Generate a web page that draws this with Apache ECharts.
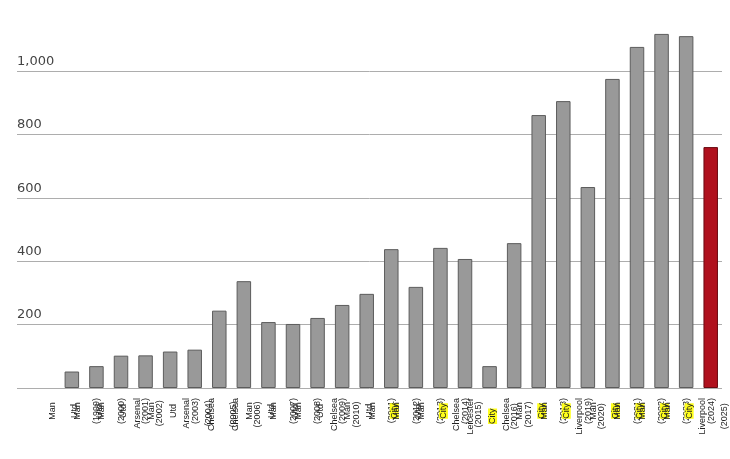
<!DOCTYPE html>
<html>
<head>
<meta charset="utf-8">
<script src="https://cdn.jsdelivr.net/npm/echarts@6/dist/echarts.min.js"></script>
<style>
  html, body { margin: 0; padding: 0; background: #fff; }
  #chart { width: 730px; height: 459px; }
</style>
</head>
<body>
<div id="chart"></div>
<script>
// ---- data ----
var teams = ['', 'Man Utd', 'Man Utd', 'Man Utd', 'Arsenal', 'Man Utd', 'Arsenal', 'Chelsea', 'Chelsea',
  'Man Utd', 'Man Utd', 'Man Utd', 'Chelsea', 'Man Utd', 'Man City', 'Man Utd', 'Man City', 'Chelsea',
  'Leicester City', 'Chelsea', 'Man City', 'Man City', 'Liverpool', 'Man City', 'Man City', 'Man City',
  'Man City', 'Liverpool'];
var seasons = ['', '1999', '2000', '2001', '2002', '2003', '2004', '2005', '2006', '2007', '2008', '2009',
  '2010', '2011', '2012', '2013', '2014', '2015', '2016', '2017', '2018', '2019', '2020', '2021', '2022',
  '2023', '2024', '2025'];
var values = [null, 52, 69, 102, 103, 115, 121, 244, 337, 208, 202, 221, 262, 297, 438, 319, 442, 407,
  69, 457, 861, 905, 634, 975, 1076, 1117, 1110, 760];
var yTicks = [0, 200, 400, 600, 800, 1000, 1200];

// ---- build ----
var categories = teams.map(function (t, i) { return t ? t + ' (' + seasons[i] + ')' : ''; });
var lastIdx = values.length - 1;
var barData = values.map(function (v, i) {
  if (i === lastIdx) {
    return { value: v, itemStyle: { color: '#b0111e', borderColor: '#6a0a12' } };
  }
  return v;
});

var chart = echarts.init(document.getElementById('chart'), null, { renderer: 'canvas' });
var gridTop = 7.6, gridBottom = 71;
chart.setOption({
  animation: false,
  backgroundColor: '#ffffff',
  grid: [
    { left: 35, right: 7, top: gridTop, bottom: gridBottom },
    { left: 17, right: 8, top: gridTop, bottom: gridBottom }
  ],
  xAxis: [
    {
      type: 'category', gridIndex: 0, data: categories,
      axisLine: { show: false }, axisTick: { show: false },
      axisLabel: {
        interval: 0, rotate: 90, margin: 10, color: '#222',
        fontFamily: 'Liberation Sans', fontSize: 9, lineHeight: 14,
        padding: [6, 0, 0, 0],
        formatter: function (val) {
          if (!val) return '';
          return val.split(' ').map(function (w) {
            return w === 'City' ? '{hl|City}' : '{w|' + w + '}';
          }).join('\n\n');
        },
        rich: {
          w: { fontFamily: 'Liberation Sans', fontSize: 9, lineHeight: 8, color: '#222', align: 'center' },
          hl: { fontFamily: 'Liberation Sans', fontSize: 9, lineHeight: 8, color: '#222', align: 'center', backgroundColor: '#ffff1a' }
        }
      }
    },
    { type: 'category', gridIndex: 1, data: categories, show: false }
  ],
  yAxis: [
    { type: 'value', gridIndex: 0, min: yTicks[0], max: yTicks[yTicks.length - 1], interval: 200, show: false },
    {
      type: 'value', gridIndex: 1, min: yTicks[0], max: yTicks[yTicks.length - 1], interval: 200,
      axisLine: { show: false }, axisTick: { show: false },
      splitLine: {
        showMaxLine: false,
        lineStyle: { color: ['#adadad', '#adadad', '#adadad', '#adadad', '#adadad', '#adadad', 'rgba(0,0,0,0)'], width: 1 }
      },
      axisLabel: {
        inside: true, margin: 0, showMinLabel: false, showMaxLabel: false,
        verticalAlign: 'bottom', padding: [0, 0, 3, 0],
        color: '#444', fontFamily: 'DejaVu Sans', fontSize: 13,
        formatter: function (v) { return v.toLocaleString('en-US'); }
      }
    }
  ],
  series: [
    {
      type: 'bar', xAxisIndex: 0, yAxisIndex: 0, data: barData, barWidth: 14.5,
      itemStyle: { color: '#999999', borderColor: '#5c5c5c', borderWidth: 1 }
    }
  ]
});
</script>
</body>
</html>
